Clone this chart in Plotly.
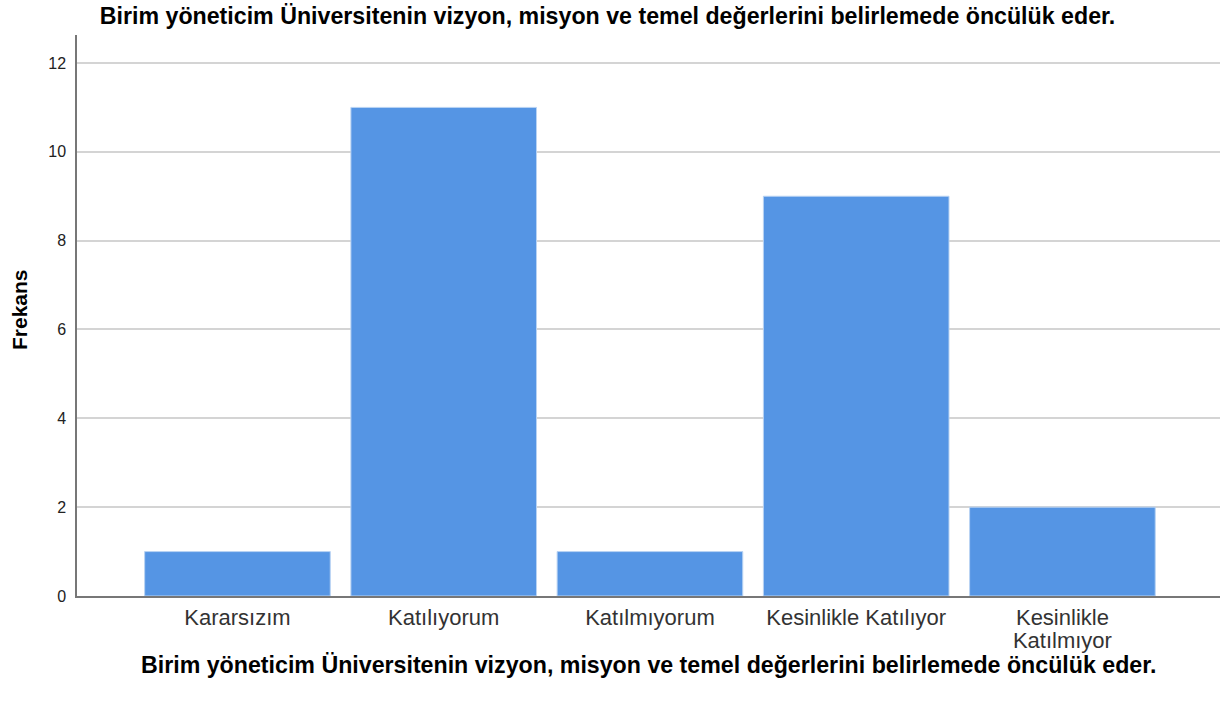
import plotly.graph_objects as go

categories = ["Kararsızım", "Katılıyorum", "Katılmıyorum", "Kesinlikle Katılıyor", "Kesinlikle<br>Katılmıyor"]
frequencies = [1, 11, 1, 9, 2]
y_ticks = [0, 2, 4, 6, 8, 10, 12]

title_text = "Birim yöneticim Üniversitenin vizyon, misyon ve temel değerlerini belirlemede öncülük eder."
y_title = "Frekans"

FONT = "Liberation Sans, Arial, sans-serif"

W, H = 1222, 704

tick_text = [f'<span style="font-size:22px">{c}</span>'.replace("<br>", '</span><br><span style="font-size:22px">')
             for c in categories]

fig = go.Figure()
fig.add_trace(go.Bar(
    x=list(range(len(categories))),
    y=frequencies,
    width=0.9,
    marker=dict(color="#5595E4", line=dict(color="#B9D3F3", width=1)),
    hoverinfo="y",
))

fig.update_layout(
    width=W, height=H,
    paper_bgcolor="white", plot_bgcolor="white",
    margin=dict(l=77, r=2, t=35, b=108, autoexpand=False),
    font=dict(family=FONT, color="#222"),
    title=dict(text=title_text, x=607.5 / W, xref="container", xanchor="center",
               y=1 - 16 / H, yref="container", yanchor="middle",
               font=dict(size=23.2, color="black", family=FONT, weight="bold")),
    showlegend=False,
    annotations=[
        dict(text=title_text, xref="paper", yref="paper", x=0.5, y=0, yshift=-69,
             xanchor="center", yanchor="middle", showarrow=False,
             font=dict(size=23.2, color="black", family=FONT, weight="bold")),
        dict(text=y_title, xref="paper", yref="paper", x=0, y=(596 - 310) / 561, xshift=-58,
             xanchor="center", yanchor="middle", showarrow=False, textangle=-90,
             font=dict(size=21, color="black", family=FONT, weight="bold")),
    ],
)
fig.update_xaxes(
    tickmode="array", tickvals=list(range(len(categories))), ticktext=tick_text,
    range=[-0.778, 4.764], automargin=False,
    showline=True, linecolor="#777", linewidth=1.5,
    showgrid=False, ticks="", tickfont=dict(size=17.5, color="#333"),
    ticklabelstandoff=6,
)
fig.update_yaxes(
    tickmode="array", tickvals=y_ticks, ticktext=[str(v) for v in y_ticks],
    range=[0, 12.63], automargin=False,
    showline=True, linecolor="#777", linewidth=1.5,
    showgrid=True, gridcolor="#D4D4D4", gridwidth=1.5,
    ticks="", ticklabelstandoff=6,
    tickfont=dict(size=16, color="#222"),
    zeroline=False,
)

fig.write_html("out.html", config={"displayModeBar": False},
               post_script="document.body.style.margin='0';document.body.style.overflow='hidden';")
